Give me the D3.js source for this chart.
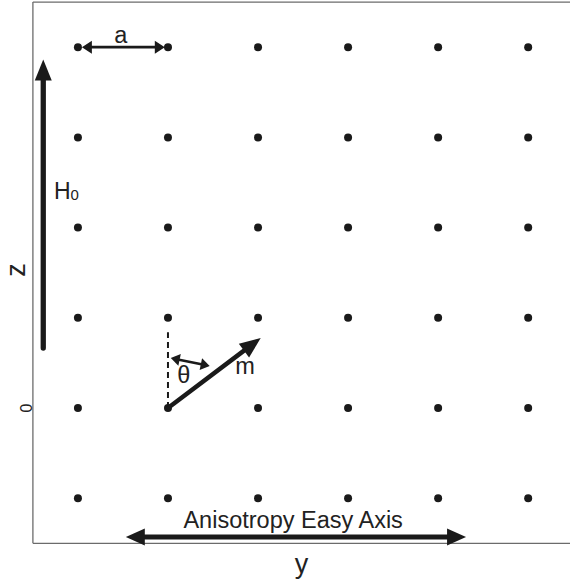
<!DOCTYPE html>
<html>
<head>
<meta charset="utf-8">
<script src="https://cdn.jsdelivr.net/npm/d3@7"></script>
<style>
  body { margin: 0; background: #fff; }
  text { font-family: "Liberation Sans", Arial, Helvetica, sans-serif; fill: #222; }
</style>
</head>
<body>
<div id="chart"></div>
<script>
var width = 570,
    height = 584;

// lattice sites (y along horizontal, z along vertical)
var latticeY = [-1, 0, 1, 2, 3, 4];
var latticeZ = [-1, 0, 1, 2, 3, 4];
var zTicks = [0];

// annotations, in data units
var fieldArrow = { x1: -1.385, z1: 0.665, x2: -1.385, z2: 3.865 };   // H0
var spacingArrow = { x1: -0.956, z1: 4, x2: -0.035, z2: 4 };         // a
var momentArrow = { x1: 0, z1: 0, x2: 1.03, z2: 0.776 };             // m
var thetaArrow = { x1: 0.031, z1: 0.555, x2: 0.463, z2: 0.465 };     // theta
var easyAxisArrow = { x1: -0.468, z1: -1.43, x2: 3.31, z2: -1.43 };
var dashedRef = { x1: 0, z1: 0, x2: 0, z2: 0.84 };

var labels = [
  { text: "a", y: -0.523, z: 4.047 },
  { text: "\u03b8", y: 0.175, z: 0.28 },
  { text: "m", y: 0.857, z: 0.377 },
  { text: "Anisotropy Easy Axis", y: 1.39, z: -1.33 }
];

var x = d3.scaleLinear().domain([-1.5, 4.5]).range([32.9, 573.2]);
var z = d3.scaleLinear().domain([-1.5, 4.5]).range([543.3, 2.1]);

var svg = d3.select("#chart").append("svg")
  .attr("width", width)
  .attr("height", height);

// plot frame
var frame = svg.append("g")
  .attr("stroke", "#6b6b6b")
  .attr("stroke-width", 1.3)
  .attr("fill", "none");
frame.append("line").attr("x1", x(-1.5)).attr("y1", z(-1.5)).attr("x2", x(4.5)).attr("y2", z(-1.5));
frame.append("line").attr("x1", x(-1.5)).attr("y1", z(-1.5)).attr("x2", x(-1.5)).attr("y2", z(4.5));
frame.append("line").attr("x1", x(-1.5)).attr("y1", z(4.5)).attr("x2", x(4.5)).attr("y2", z(4.5));

// tick label on z axis
svg.selectAll(".ztick")
  .data(zTicks)
  .enter()
  .append("text")
  .attr("class", "ztick")
  .attr("transform", function(d){ return "translate(" + (x(-1.5) - 0.5) + "," + z(d) + ") rotate(-90)"; })
  .attr("text-anchor", "middle")
  .style("font-size", "16px")
  .text(function(d){ return d; });

// axis titles
svg.append("text")
  .attr("x", (x(-1.5) + width) / 2)
  .attr("y", 573)
  .attr("text-anchor", "middle")
  .style("font-size", "27px")
  .text("y");

svg.append("text")
  .attr("transform", "translate(25," + z(1.53) + ") rotate(-90)")
  .attr("text-anchor", "middle")
  .style("font-size", "27px")
  .text("z");

// lattice points
var sites = [];
latticeZ.forEach(function(zz){
  latticeY.forEach(function(yy){ sites.push({ y: yy, z: zz }); });
});

svg.selectAll("circle.site")
  .data(sites)
  .enter()
  .append("circle")
  .attr("class", "site")
  .attr("cx", function(d){ return x(d.y); })
  .attr("cy", function(d){ return z(d.z); })
  .attr("r", 4)
  .style("fill", "#1a1a1a");

// arrow helper: shaft + triangular heads
function arrow(a, opts) {
  var x1 = x(a.x1), y1 = z(a.z1), x2 = x(a.x2), y2 = z(a.z2);
  var dx = x2 - x1, dy = y2 - y1, len = Math.sqrt(dx * dx + dy * dy);
  var ux = dx / len, uy = dy / len, px = -uy, py = ux;
  var hl = opts.headLen, hw = opts.headWidth / 2;
  var g = svg.append("g");

  var sx1 = opts.both ? x1 + ux * hl * 0.8 : x1,
      sy1 = opts.both ? y1 + uy * hl * 0.8 : y1;
  g.append("line")
    .attr("x1", sx1).attr("y1", sy1)
    .attr("x2", x2 - ux * hl * 0.8).attr("y2", y2 - uy * hl * 0.8)
    .style("stroke", "#1a1a1a")
    .style("stroke-width", opts.width)
    .style("stroke-linecap", opts.both ? "butt" : "round");

  function head(tx, ty, dirx, diry) {
    var bx = tx - dirx * hl, by = ty - diry * hl;
    g.append("path")
      .attr("d", "M" + tx + "," + ty +
        "L" + (bx + px * hw) + "," + (by + py * hw) +
        "L" + (bx - px * hw) + "," + (by - py * hw) + "Z")
      .style("fill", "#1a1a1a");
  }
  head(x2, y2, ux, uy);
  if (opts.both) head(x1, y1, -ux, -uy);
}

// dashed reference line
svg.append("line")
  .attr("x1", x(dashedRef.x1)).attr("y1", z(dashedRef.z1))
  .attr("x2", x(dashedRef.x2)).attr("y2", z(dashedRef.z2))
  .style("stroke", "#1a1a1a")
  .style("stroke-width", 2)
  .style("stroke-dasharray", "6,4");

arrow(fieldArrow, { width: 5.3, headLen: 21, headWidth: 17 });
arrow(spacingArrow, { width: 2.8, headLen: 10, headWidth: 13, both: true });
arrow(momentArrow, { width: 4.5, headLen: 21, headWidth: 17 });
arrow(thetaArrow, { width: 2.6, headLen: 9, headWidth: 12, both: true });
arrow(easyAxisArrow, { width: 5, headLen: 19, headWidth: 17, both: true });

// H0 label with subscript
var h0 = svg.append("text")
  .attr("x", x(-1.266))
  .attr("y", z(2.317))
  .style("font-size", "23px");
h0.append("tspan").text("H");
h0.append("tspan").attr("dy", 1).style("font-size", "15px").text("0");

svg.selectAll("text.note")
  .data(labels)
  .enter()
  .append("text")
  .attr("class", "note")
  .attr("x", function(d){ return x(d.y); })
  .attr("y", function(d){ return z(d.z); })
  .attr("text-anchor", "middle")
  .style("font-size", "23.5px")
  .text(function(d){ return d.text; });
</script>
</body>
</html>
